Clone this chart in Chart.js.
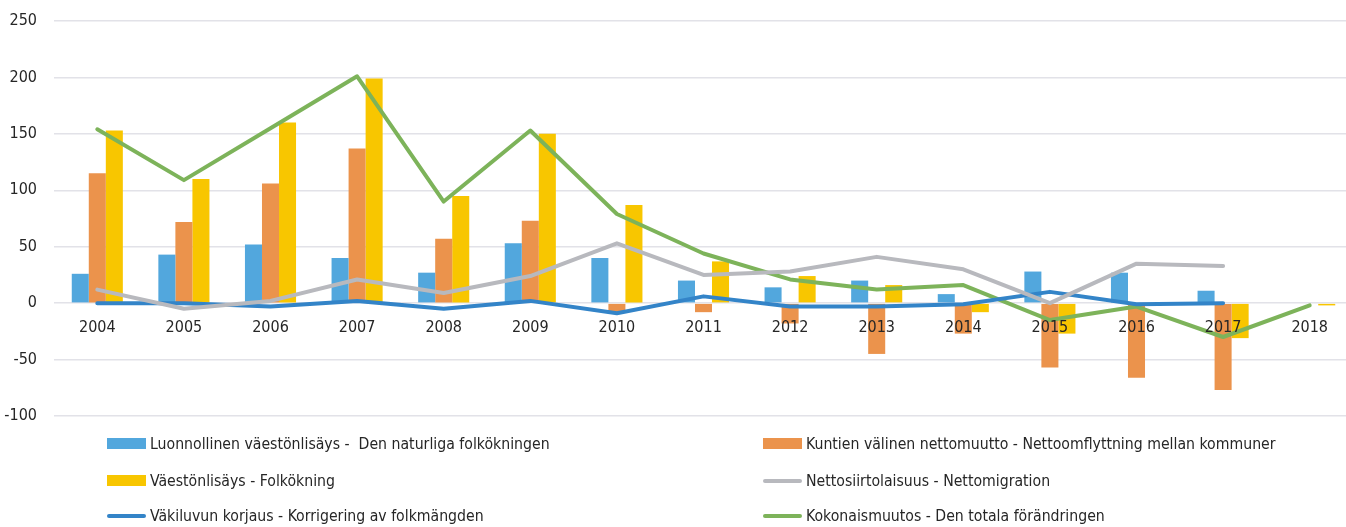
<!DOCTYPE html>
<html>
<head>
<meta charset="utf-8">
<script src="https://cdn.jsdelivr.net/npm/chart.js@4/dist/chart.umd.min.js"></script>
<style>
  html, body { margin: 0; padding: 0; background: #fff; overflow: hidden; }
  #wrap { position: relative; width: 1346px; height: 527px; overflow: hidden; }
  #box { position: absolute; left: 0; top: 0; width: 1353px; height: 527px; }
  .item { position: absolute; height: 20px; font: 16.5px "DejaVu Sans Condensed", sans-serif; color: #262626; white-space: pre; line-height: 20px; }
  .item span.sw { position: absolute; left: 0; width: 39px; }
  .item span.tx { position: absolute; left: 43px; top: 0; transform: scaleX(0.95); transform-origin: 0 50%; }
</style>
</head>
<body>
<div id="wrap">
  <div id="box"><canvas id="chart"></canvas></div>
  <div id="legend"></div>
</div>
<script>
// ===== data =====
const years = ['2004', '2005', '2006', '2007', '2008', '2009', '2010', '2011', '2012', '2013', '2014', '2015', '2016', '2017', '2018'];

const naturalIncrease = [26, 43, 52, 40, 27, 53, 40, 20, 14, 20, 8, 28, 27, 11, null];
const interMunicipal  = [115, 72, 106, 137, 57, 73, -8, -8, -18, -45, -27, -57, -66, -77, null];
const popIncrease     = [153, 110, 160, 199, 95, 150, 87, 37, 24, 16, -8, -27, -2, -31, -2];
const netMigration    = [12, -5, 2, 21, 9, 24, 53, 25, 28, 41, 30, 0, 35, 33, null];
const correction      = [0, 0, -3, 2, -5, 2, -9, 6, -3, -3, -1, 10, -1, 0, null];
const totalChange     = [154, 109, 155, 201, 90, 153, 79, 44, 21, 12, 16, -15, -3, -30, -2];

const yTicks = [250, 200, 150, 100, 50, 0, -50, -100];

const FONT = '"DejaVu Sans Condensed", sans-serif';

function bar(label, data, color) {
    return { type: 'bar', label: label, data: data, backgroundColor: color, borderWidth: 0,
             order: 1, categoryPercentage: 0.59, barPercentage: 1.0 };
}

function line(label, data, color) {
    return { type: 'line', label: label, data: data, borderColor: color, backgroundColor: color,
             borderWidth: 4, pointRadius: 0, tension: 0, order: 0,
             borderCapStyle: 'round', borderJoinStyle: 'round' };
}

const datasets = [
    bar('Luonnollinen väestönlisäys -  Den naturliga folkökningen', naturalIncrease, '#52a7dd'),
    bar('Kuntien välinen nettomuutto - Nettoomflyttning mellan kommuner', interMunicipal, '#eb934c'),
    bar('Väestönlisäys - Folkökning', popIncrease, '#f8c600'),
    line('Nettosiirtolaisuus - Nettomigration', netMigration, '#b8b9be'),
    line('Väkiluvun korjaus - Korrigering av folkmängden', correction, '#3384c8'),
    line('Kokonaismuutos - Den totala förändringen', totalChange, '#7db35a')
];

const chart = new Chart(document.getElementById('chart'), {
    data: { labels: years, datasets: datasets },
    options: {
        responsive: true,
        maintainAspectRatio: false,
        animation: false,
        layout: { padding: { top: 21, right: 0, bottom: 111, left: 0 } },
        plugins: { legend: { display: false }, tooltip: { enabled: false } },
        scales: {
            x: {
                position: { y: 0 },
                grid: { display: false },
                border: { display: false },
                // year labels sit on top of the bars
                ticks: { z: 1, color: '#262626', font: { family: FONT, size: 16 }, padding: 7, maxRotation: 0 }
            },
            y: {
                min: -100, max: 250,
                afterBuildTicks: (axis) => { axis.ticks = yTicks.map(v => ({ value: v })); },
                afterFit: (axis) => { axis.width = 54; axis.paddingTop = 0; axis.paddingBottom = 0; },
                grid: { color: '#e2e2e8', lineWidth: 1.5, drawTicks: false },
                border: { display: false },
                ticks: { color: '#262626', font: { family: FONT, size: 16 }, padding: 17 }
            }
        }
    }
});

// ===== legend: two columns, three rows =====
const legend = document.getElementById('legend');
const colX = [107, 763];
const rowY = [444, 481, 516];
chart.data.datasets.forEach((ds, i) => {
    const item = document.createElement('div');
    item.className = 'item';
    item.style.left = colX[i % 2] + 'px';
    item.style.top = (rowY[Math.floor(i / 2)] - 10) + 'px';
    const sw = document.createElement('span');
    sw.className = 'sw';
    if (ds.type === 'bar') {
        sw.style.top = '4px'; sw.style.height = '11px'; sw.style.background = ds.backgroundColor;
    } else {
        sw.style.top = '8px'; sw.style.height = '4px'; sw.style.borderRadius = '2px'; sw.style.background = ds.borderColor;
    }
    const tx = document.createElement('span');
    tx.className = 'tx';
    tx.textContent = ds.label;
    item.appendChild(sw);
    item.appendChild(tx);
    legend.appendChild(item);
});
</script>
</body>
</html>
